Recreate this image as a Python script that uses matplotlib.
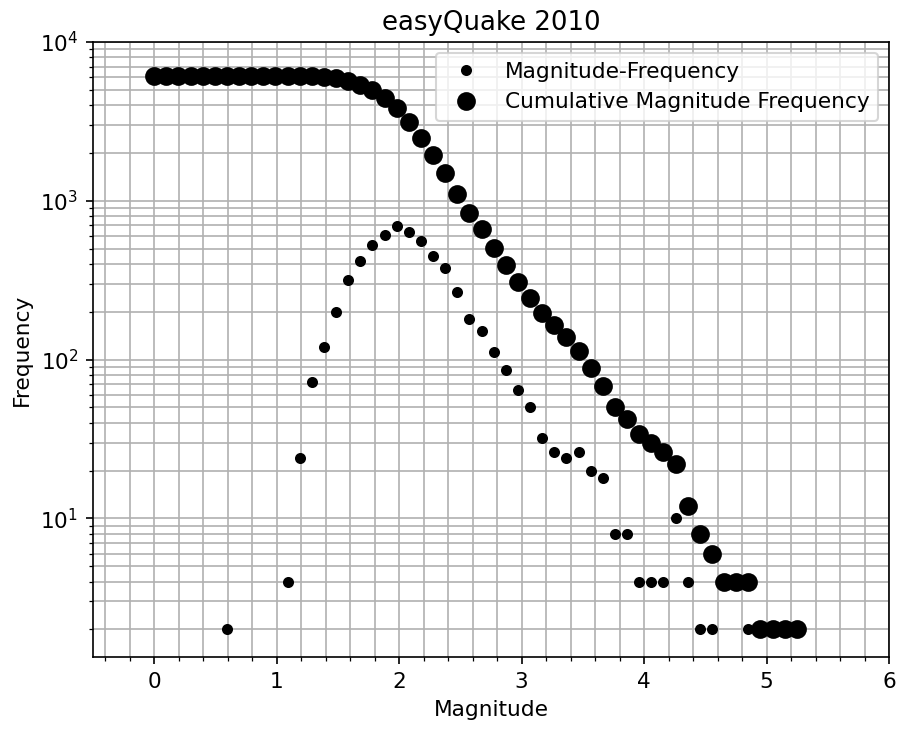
import matplotlib
matplotlib.use("Agg")
import matplotlib.pyplot as plt
import numpy as np

# magnitude bins
magnitudes = [0.000, 0.099, 0.198, 0.297, 0.396, 0.495, 0.594, 0.693, 0.792, 0.891,
              0.990, 1.089, 1.188, 1.287, 1.386, 1.485, 1.584, 1.683, 1.782, 1.881,
              1.980, 2.079, 2.178, 2.277, 2.376, 2.475, 2.574, 2.673, 2.772, 2.871,
              2.970, 3.069, 3.168, 3.267, 3.366, 3.465, 3.564, 3.663, 3.762, 3.861,
              3.960, 4.059, 4.158, 4.257, 4.356, 4.455, 4.554, 4.653, 4.752, 4.851,
              4.950, 5.049, 5.148, 5.247]

# events per bin
counts = [0, 0, 0, 0, 0, 0, 2, 0, 0, 0,
          0, 4, 24, 72, 120, 200, 318, 420, 524, 612,
          692, 636, 560, 446, 380, 266, 180, 152, 112, 86,
          64, 50, 32, 26, 24, 26, 20, 18, 8, 8,
          4, 4, 4, 10, 4, 2, 2, 0, 0, 2,
          0, 0, 0, 2]

# events at or above each magnitude
cumulative = [6116, 6116, 6116, 6116, 6116, 6116, 6116, 6114, 6114, 6114,
              6114, 6114, 6110, 6086, 6014, 5894, 5694, 5376, 4956, 4432,
              3820, 3128, 2492, 1932, 1486, 1106, 840, 660, 508, 396,
              310, 246, 196, 164, 138, 114, 88, 68, 50, 42,
              34, 30, 26, 22, 12, 8, 6, 4, 4, 4,
              2, 2, 2, 2]

plt.rcParams["font.size"] = 10.4

mags = np.array(magnitudes)
n = np.array(counts, dtype=float)
n[n == 0] = np.nan

fig = plt.figure(figsize=(899 / 150, 729 / 150), dpi=150)
ax = fig.add_axes([93 / 899, 1 - 657 / 729, (889 - 93) / 899, (657 - 42) / 729])

ax.semilogy(mags, n, "ko", markersize=4.3, linestyle="none",
            label="Magnitude-Frequency")
ax.semilogy(mags, cumulative, "ko", markersize=8.0, linestyle="none",
            label="Cumulative Magnitude Frequency")

ax.set_xlim(-0.5, 6)
ax.set_ylim(1.34, 1e4)
ax.minorticks_on()
ax.grid(True, which="both")
ax.set_axisbelow(True)

ax.set_title("easyQuake 2010")
ax.set_xlabel("Magnitude")
ax.set_ylabel("Frequency")
ax.legend(loc="upper right")

fig.savefig("out.png", dpi=150)
